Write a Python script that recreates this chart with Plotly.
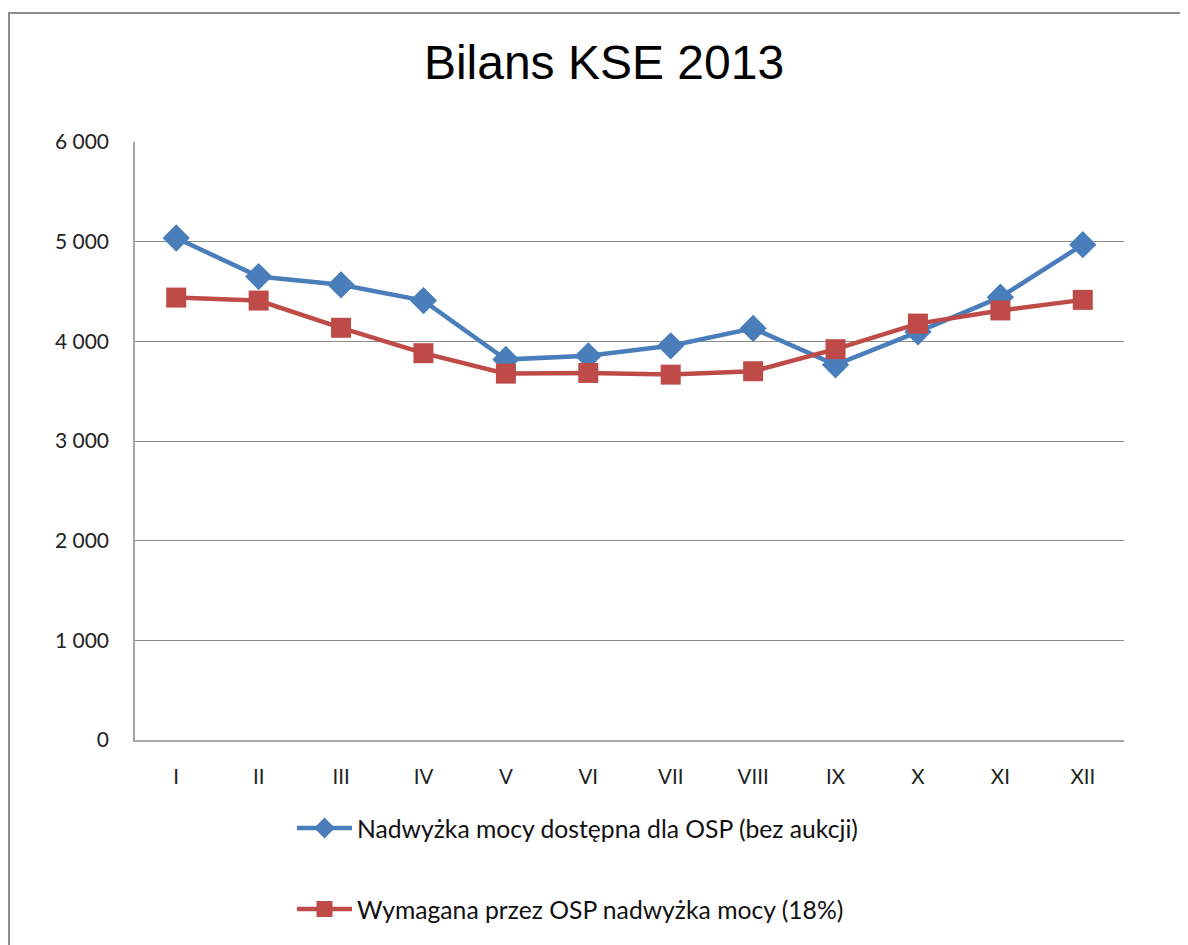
import plotly.graph_objects as go

months = ["I", "II", "III", "IV", "V", "VI", "VII", "VIII", "IX", "X", "XI", "XII"]
available = [5037, 4650, 4567, 4409, 3818, 3855, 3955, 4130, 3765, 4095, 4443, 4970]
required = [4439, 4409, 4136, 3881, 3676, 3683, 3666, 3700, 3921, 4178, 4310, 4416]
y_ticks = [0, 1000, 2000, 3000, 4000, 5000, 6000]

name_a = "Nadwyżka mocy dostępna dla OSP (bez aukcji)"
name_r = "Wymagana przez OSP nadwyżka mocy (18%)"

fig = go.Figure()
fig.add_trace(go.Scatter(
    x=months, y=available, name=name_a, mode="lines+markers", legendgroup="a",
    line=dict(color="#4A7EBB", width=4.5),
    marker=dict(symbol="diamond", size=21, color="#4A7EBB"),
))
fig.add_trace(go.Scatter(
    x=months, y=required, name=name_r, mode="lines+markers", legendgroup="b",
    line=dict(color="#BE4B48", width=4.5),
    marker=dict(symbol="square", size=20, color="#BE4B48"),
))

# page is rendered with an 8px body margin; figure sized to fit the window
OFF = 8
W, H = 1188 - OFF, 945 - OFF
L, T = 135 - OFF, 142 - OFF
plot_right, plot_bottom = 1124 - OFF, 745 - OFF
R, B = W - plot_right, H - plot_bottom
pw, ph = W - L - R, H - T - B

def px_x(v):
    return (v - OFF - L) / pw

def px_y(v):
    return (plot_bottom - (v - OFF)) / ph

fig.add_shape(type="rect", xref="paper", yref="paper",
              x0=px_x(OFF + 1), x1=px_x(1200), y0=px_y(960), y1=px_y(12),
              line=dict(color="#8C8C8C", width=2), fillcolor="rgba(0,0,0,0)", layer="below")

fig.update_layout(
    width=W, height=H,
    margin=dict(l=L, r=R, t=T, b=B),
    paper_bgcolor="white", plot_bgcolor="white",
    separators=". ",
    title=dict(text="Bilans KSE 2013", x=px_x(604), xanchor="center", xref="paper",
               y=1 - (62 - OFF) / H, yanchor="middle",
               font=dict(family="Liberation Sans, Arial", size=48, color="black")),
    font=dict(family="Lato, Open Sans, sans-serif", size=20, color="#222222"),
    showlegend=True,
    legend=dict(x=px_x(292), y=px_y(811), xanchor="left", yanchor="top",
                orientation="v", tracegroupgap=46, itemwidth=55,
                font=dict(family="Lato, Open Sans, sans-serif", size=24.7, color="#111111"),
                bgcolor="rgba(0,0,0,0)"),
    xaxis=dict(type="category", categoryorder="array", categoryarray=months,
               range=[-0.5, 11.5], showgrid=False, showline=True, linecolor="#A6A6A6", linewidth=1.5,
               ticks="", ticklabelstandoff=18, tickfont=dict(size=20.5), zeroline=False),
    yaxis=dict(range=[0, 6000], tickvals=y_ticks, tickformat=",d",
               showgrid=True, gridcolor="#8C8C8C", gridwidth=1.2,
               showline=True, linecolor="#A6A6A6", linewidth=1.5,
               ticks="", ticklabelstandoff=20, tickfont=dict(size=21), zeroline=False),
)

fig.write_html("out.html")
